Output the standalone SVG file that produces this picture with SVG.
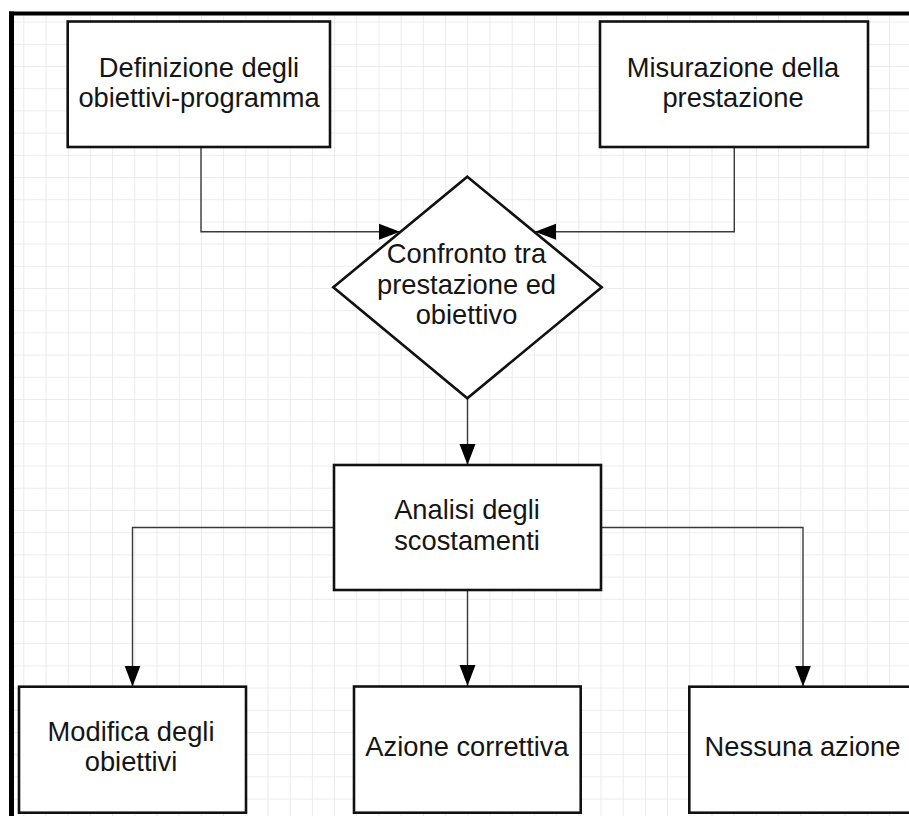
<svg xmlns="http://www.w3.org/2000/svg" width="909" height="816" viewBox="0 0 909 816">
<defs>
<pattern id="grid" x="1.1" y="-0.6" width="22.2" height="22.2" patternUnits="userSpaceOnUse">
<path d="M0,0 H22.2 M0,0 V22.2" fill="none" stroke="#e6e6e6" stroke-width="1.6"/>
</pattern>
<marker id="arr" markerUnits="userSpaceOnUse" markerWidth="21" markerHeight="17" refX="21" refY="8.5" orient="auto">
<path d="M0,0.5 L21,8.5 L0,16.5 z" fill="#000"/>
</marker>
<style>
.box{fill:#fff;stroke:#111;stroke-width:2.6}
.t{font-family:"Liberation Sans",Arial,sans-serif;font-size:27.3px;fill:#151515;text-anchor:middle}
.c{fill:none;stroke:#3a3a3a;stroke-width:1.4}
</style>
</defs>
<rect width="909" height="816" fill="#fff"/>
<rect x="14" y="15.5" width="895" height="800.5" fill="url(#grid)"/>
<g id="frame">
<line x1="9" y1="13.5" x2="909" y2="13.5" stroke="#000" stroke-width="4"/>
<line x1="11.5" y1="11.5" x2="11.5" y2="816" stroke="#000" stroke-width="5"/>
</g>
<g id="connectors">
<path class="c" d="M201,147 V231.7 H400" marker-end="url(#arr)"/>
<path class="c" d="M734.3,147 V231.7 H535" marker-end="url(#arr)"/>
<path class="c" d="M467.5,398 V465" marker-end="url(#arr)"/>
<path class="c" d="M334,527.5 H132.5 V686.5" marker-end="url(#arr)"/>
<path class="c" d="M467.5,590 V686" marker-end="url(#arr)"/>
<path class="c" d="M601,527.5 H803 V686.5" marker-end="url(#arr)"/>
</g>
<g id="n1">
<rect class="box" x="67.7" y="21.5" width="262.3" height="125.5"/>
<text class="t" x="199" y="76.5">Definizione degli</text>
<text class="t" x="199" y="107">obiettivi-programma</text>
</g>
<g id="n2">
<rect class="box" x="600" y="21.5" width="268" height="125.5"/>
<text class="t" x="733" y="76.5">Misurazione della</text>
<text class="t" x="733" y="106.5">prestazione</text>
</g>
<g id="n3">
<polygon class="box" stroke-width="2.2" points="467.3,176.7 601.7,287.3 467.3,398.3 333.3,287.3"/>
<text class="t" x="466.5" y="263">Confronto tra</text>
<text class="t" x="466.5" y="293.6">prestazione ed</text>
<text class="t" x="466.5" y="324.3">obiettivo</text>
</g>
<g id="n4">
<rect class="box" x="334" y="465" width="267" height="125"/>
<text class="t" x="467" y="518.6">Analisi degli</text>
<text class="t" x="467" y="549.6">scostamenti</text>
</g>
<g id="n5">
<rect class="box" x="19" y="686.7" width="227" height="126"/>
<text class="t" x="131" y="741.3">Modifica degli</text>
<text class="t" x="131" y="771.3">obiettivi</text>
</g>
<g id="n6">
<rect class="box" x="354" y="686.5" width="226.7" height="126.2"/>
<text class="t" x="467" y="756">Azione correttiva</text>
</g>
<g id="n7">
<rect class="box" x="689.3" y="686.7" width="230" height="126"/>
<text class="t" x="802.5" y="756.3">Nessuna azione</text>
</g>
</svg>
